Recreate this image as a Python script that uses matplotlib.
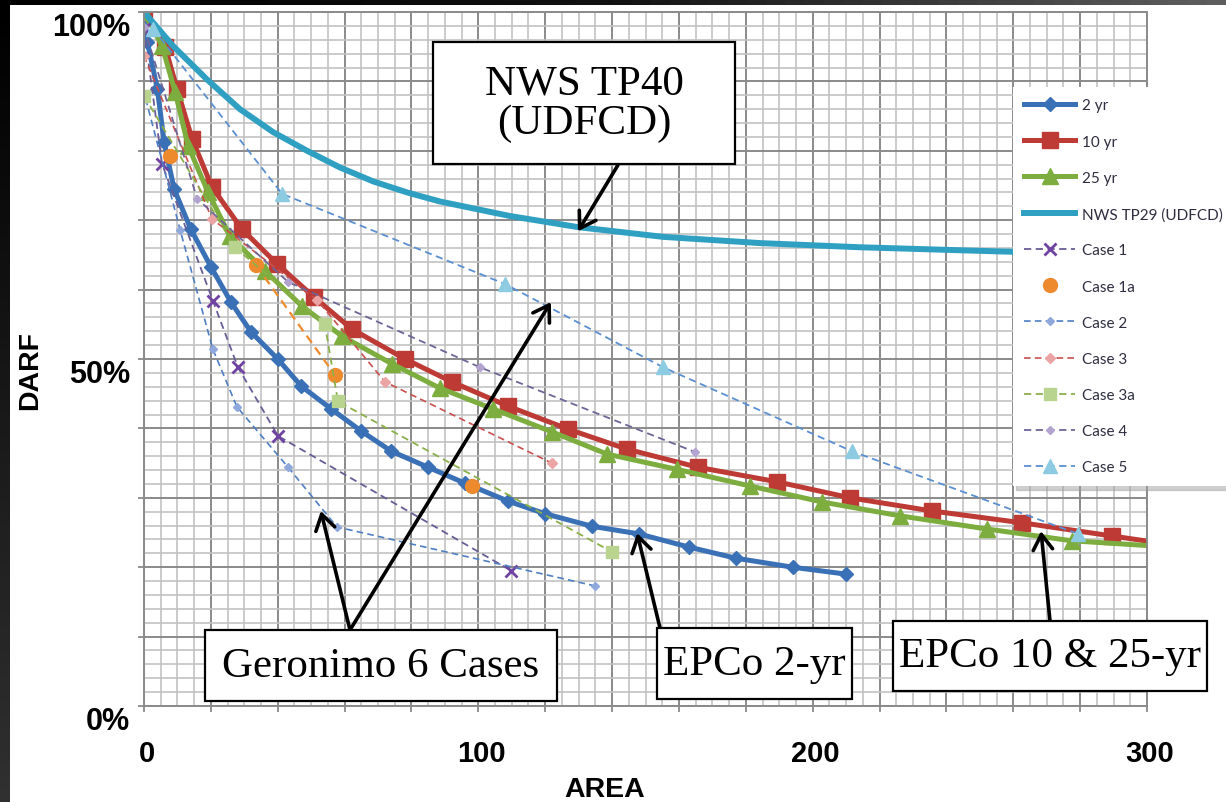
import numpy as np
import matplotlib
matplotlib.use("Agg")
import matplotlib.pyplot as plt
from matplotlib.colors import LinearSegmentedColormap
from matplotlib.patches import Rectangle
from matplotlib.ticker import MultipleLocator, FuncFormatter
from matplotlib.transforms import ScaledTranslation

# ── Datos (AREA vs DARF %) ─────────────────────────────────────────────────
yr2_x = [0, 1, 4, 6, 9, 14, 20, 26, 32, 40, 47, 56, 65, 74, 85, 96, 109, 120, 134, 148, 163, 177, 194, 210]
yr2_y = [100, 95.7, 88.9, 81.3, 74.5, 68.7, 63.3, 58.2, 53.9, 50.0, 46.1, 42.8, 39.6, 36.7, 34.4, 32.1,
         29.5, 27.7, 25.9, 24.8, 22.9, 21.3, 20.0, 19.0]

yr10_x = [0, 6.3, 9.9, 14.4, 20.3, 29.3, 39.8, 50.9, 62.2, 78.1, 92.1, 108.9, 126.8, 144.5, 165.7,
          189.4, 211.2, 235.7, 262.6, 289.5, 318]
yr10_y = [100, 95.0, 88.9, 81.7, 74.8, 68.7, 63.7, 58.9, 54.3, 50.0, 46.7, 43.2, 39.9, 37.0, 34.4,
          32.3, 30.0, 28.1, 26.4, 24.5, 22.5]

yr25_x = [0, 5.4, 9.3, 13.2, 19.1, 25.7, 36.2, 47.3, 59.2, 74.2, 88.5, 104.4, 122.0, 138.5, 159.4,
          181.3, 202.8, 226.1, 252.2, 277.6, 304]
yr25_y = [100, 95.1, 88.5, 80.7, 74.1, 67.7, 62.7, 57.6, 53.3, 49.3, 45.8, 42.8, 39.5, 36.3, 34.1,
          31.7, 29.4, 27.4, 25.5, 23.8, 23.0]

nws_x = [0, 8.7, 18.8, 28.7, 38.6, 48.8, 58.6, 68.5, 78.7, 88.5, 109.5, 129.8, 155.3, 184.3, 214.2, 256, 300]
nws_y = [100, 95.1, 90.3, 86.0, 82.7, 80.0, 77.6, 75.6, 74.0, 72.7, 70.6, 69.0, 67.6, 66.7, 66.1, 65.5, 65.0]

case1_x = [0, 5.4, 20.6, 28.1, 40.1, 109.8]
case1_y = [97.6, 78.1, 58.4, 48.8, 38.9, 19.5]

case1a_x = [7.8, 33.5, 57.1, 98.1]
case1a_y = [79.3, 63.5, 47.7, 31.7]

case2_x = [0.5, 10.8, 20.6, 27.8, 43.1, 57.7, 134.9]
case2_y = [87.5, 68.6, 51.4, 43.1, 34.4, 25.8, 17.3]

case3_x = [0, 20.3, 51.8, 72.1, 122.0]
case3_y = [93.7, 70.2, 58.5, 46.7, 35.0]

case3a_x = [0, 27.2, 54.1, 58.0, 140.0]
case3a_y = [87.9, 66.1, 55.0, 43.9, 22.2]

case4_x = [0, 15.9, 43.1, 100.5, 164.8]
case4_y = [97.8, 73.1, 61.1, 48.8, 36.6]

case5_x = [2.7, 41.3, 108.0, 155.3, 211.8, 279.4]
case5_y = [97.6, 73.8, 60.8, 48.8, 36.7, 24.8]

x_labels = [0, 100, 200, 300]
y_labels = [0, 50, 100]

# ── Figura ─────────────────────────────────────────────────────────────────
W, H = 1226, 803
fig = plt.figure(figsize=(W / 100, H / 100), dpi=100)


def fx(px):
    return px / W


def fy(py):
    return 1 - py / H


# bordes oscuros (recorte de diapositiva)
left = fig.add_axes([0, 0, fx(10), 1])
left.imshow(np.linspace(0, 1, 64).reshape(-1, 1), aspect="auto",
            cmap=LinearSegmentedColormap.from_list("l", ["#000000", "#303030"]))
left.axis("off")
top = fig.add_axes([0, fy(6), 1, 6 / H])
top.imshow(np.linspace(0, 1, 64).reshape(1, -1), aspect="auto",
           cmap=LinearSegmentedColormap.from_list("t", ["#000000", "#111111", "#5e5e5e"]))
top.axis("off")

ax = fig.add_axes([fx(144), fy(707), (1147 - 144) / W, (707 - 13) / H])
ax.set_xlim(0, 300)
ax.set_ylim(0, 100)

dash = (0, (4, 2.5))
ax.plot(yr2_x, yr2_y, color="#3a70b6", lw=3.6, marker="D", ms=7.5, label="2 yr")
ax.plot(yr10_x, yr10_y, color="#bd3a35", lw=3.6, marker="s", ms=11, label="10 yr")
ax.plot(yr25_x, yr25_y, color="#7cad3e", lw=3.6, marker="^", ms=11, label="25 yr")
ax.plot(nws_x, nws_y, color="#2fa0c2", lw=4.3, label="NWS TP29 (UDFCD)")
ax.plot(case1_x, case1_y, color="#6a5c96", lw=1.3, ls=dash, marker="x", ms=8, mew=2,
        mec="#7043a3", label="Case 1")
ax.plot(case1a_x, case1a_y, ls="none", marker="o", ms=10, color="#ee8a2e", label="Case 1a")
ax.plot(case1a_x[1:3], case1a_y[1:3], color="#ee8a2e", lw=1.6, ls=dash)
ax.plot(case2_x, case2_y, color="#4f7fc2", lw=1.2, ls=dash, marker="D", ms=4,
        mfc="#8fa9dc", mec="#8fa9dc", label="Case 2")
ax.plot(case3_x, case3_y, color="#c9504e", lw=1.2, ls=dash, marker="D", ms=5.5,
        mfc="#eba3a3", mec="#eba3a3", label="Case 3")
ax.plot(case3a_x, case3a_y, color="#8bb04a", lw=1.3, ls=dash, marker="s", ms=9,
        mfc="#b9d48f", mec="#b9d48f", label="Case 3a")
ax.plot(case4_x, case4_y, color="#6f6498", lw=1.3, ls=dash, marker="D", ms=4.5,
        mfc="#b2a3d0", mec="#b2a3d0", label="Case 4")
ax.plot(case5_x, case5_y, color="#5a8fd2", lw=1.3, ls=dash, marker="^", ms=10,
        mfc="#8ccbe2", mec="#8ccbe2", label="Case 5")

# rejilla tipo papel milimetrado
ax.xaxis.set_major_locator(MultipleLocator(20))
ax.xaxis.set_minor_locator(MultipleLocator(5))
ax.yaxis.set_major_locator(MultipleLocator(10))
ax.yaxis.set_minor_locator(MultipleLocator(2))
ax.set_axisbelow(True)
ax.grid(which="major", color="#8a8a8a", lw=1.4)
ax.grid(which="minor", color="#c2c2c2", lw=1.2)
for s in ax.spines.values():
    s.set_color("#8a8a8a")
    s.set_linewidth(1.4)
ax.tick_params(which="major", length=4, width=1.3, color="#8a8a8a")
ax.tick_params(which="minor", length=0)

ax.xaxis.set_major_formatter(FuncFormatter(
    lambda v, p: f"{int(round(v))}" if int(round(v)) in x_labels else ""))
ax.yaxis.set_major_formatter(FuncFormatter(
    lambda v, p: f"{int(round(v))}%" if int(round(v)) in y_labels else ""))
ax.tick_params(axis="x", pad=20, labelsize=21)
ax.tick_params(axis="y", pad=6, labelsize=22)
for lab in ax.get_xticklabels() + ax.get_yticklabels():
    lab.set_fontfamily("Liberation Sans")
    lab.set_fontweight("bold")
for lab in ax.get_yticklabels():
    lab.set_transform(lab.get_transform() + ScaledTranslation(0, -12 / 100, fig.dpi_scale_trans))
for lab in ax.get_xticklabels():
    lab.set_transform(lab.get_transform() + ScaledTranslation(3 / 100, 0, fig.dpi_scale_trans))

fig.text(fx(605), fy(790), "AREA", ha="center", va="center", fontsize=20.5,
         fontweight="bold", family="Liberation Sans")
fig.text(fx(30), fy(370), "DARF", ha="center", va="center", rotation=90, fontsize=20.5,
         fontweight="bold", family="Liberation Sans")

# leyenda (sale por la derecha de la figura, como en el original)
leg = ax.legend(loc="upper left", bbox_to_anchor=(fx(1013), fy(88)), bbox_transform=fig.transFigure,
                frameon=True, fancybox=False, edgecolor="none", facecolor="white", framealpha=1,
                borderaxespad=0, borderpad=0.75, numpoints=1, handlelength=3.3, handletextpad=0.45,
                labelspacing=1.45, prop={"family": "Lato", "size": 11},
                shadow={"ox": 2, "oy": -3, "color": "#a0a0a0", "alpha": 0.5})
for t in leg.get_texts():
    t.set_color("#2e2e40")

# cuadros de texto y flechas
boxes = [
    ((433, 43, 735, 165), "NWS TP40\n(UDFCD)"),
    ((205, 631, 557, 702), "Geronimo 6 Cases"),
    ((657, 629, 852, 700), "EPCo 2-yr"),
    ((893, 622, 1207, 692), "EPCo 10 & 25-yr"),
]
for (x0, y0, x1, y1), txt in boxes:
    fig.add_artist(Rectangle((fx(x0), fy(y1)), (x1 - x0) / W, (y1 - y0) / H,
                             transform=fig.transFigure, facecolor="white", edgecolor="black",
                             lw=1.6, zorder=5))
    fig.text(fx((x0 + x1) / 2), fy((y0 + y1) / 2), txt, ha="center", va="center", fontsize=31,
             family="Liberation Serif", linespacing=1.05, zorder=6)

arrows = [
    ((618, 166), (129.8, 68.4)),
    ((350, 631), (52.9, 28.1)),
    ((350, 631), (121.7, 58.2)),
    ((660, 629), (147.5, 24.9)),
    ((1050, 622), (268.3, 25.2)),
]
for (sx, sy), tip in arrows:
    ax.annotate("", xy=tip, xycoords="data", xytext=(fx(sx), fy(sy)), textcoords="figure fraction",
                annotation_clip=False, zorder=10,
                arrowprops=dict(arrowstyle="->,head_length=0.55,head_width=0.35", mutation_scale=20,
                                color="black", lw=2.6, shrinkA=0, shrinkB=0))

fig.savefig("out.png", dpi=100)
